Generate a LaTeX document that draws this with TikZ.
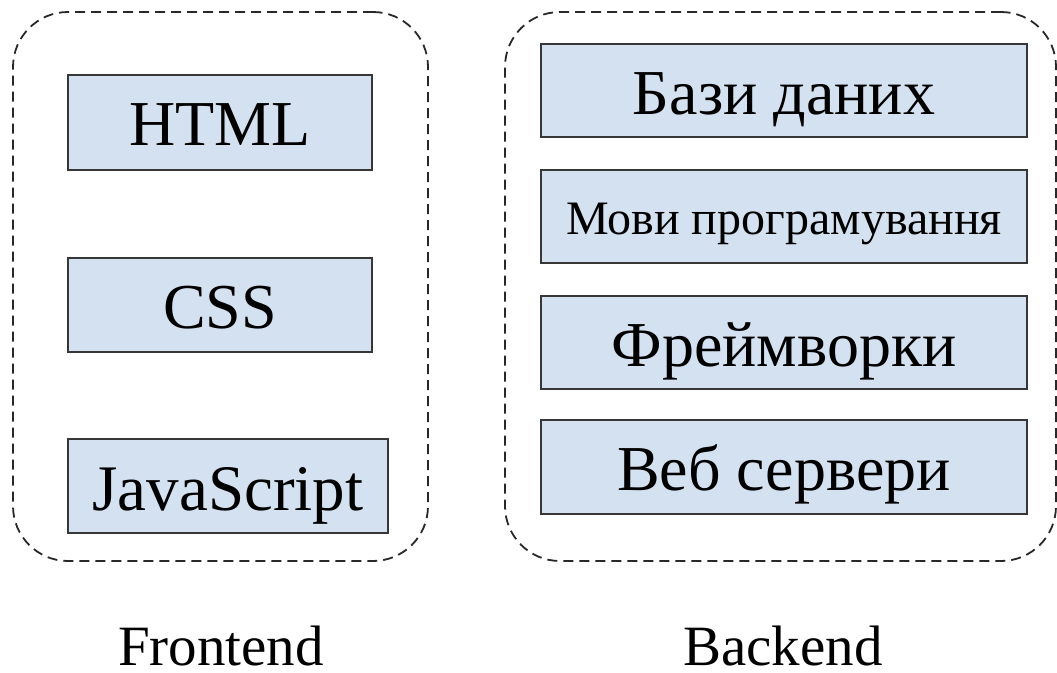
\documentclass[tikz,border=0pt]{standalone}
\usepackage{fontspec}
\setmainfont{Liberation Serif}
\usepackage{tikz}
\definecolor{boxfill}{RGB}{212,225,240}
\definecolor{boxline}{RGB}{55,55,55}
\definecolor{dashline}{RGB}{40,40,40}
\tikzset{
    techbox/.style={draw = boxline, fill = boxfill, line width = 2pt, inner sep = 0pt,
        font = \fontsize{#1}{#1}\selectfont, text height = {0.85*#1}, text depth = {0.11*#1}},
    techbox/.default = 64,
    groupbox/.style={draw = dashline, dash pattern = on 10pt off 6pt, line width = 1.8pt,
        rounded corners = 55pt, inner sep = 0pt},
    grouplabel/.style={anchor = base, text depth = 0pt, font = \fontsize{57}{62}\selectfont},
}

\begin{document}
\begin{tikzpicture}[x = 1pt, y = 1pt]
\useasboundingbox (0,0) rectangle (1057,-672);
\node[groupbox, minimum width = 415, minimum height = 549] (front) at (220.5,-286.5) {};
\node[groupbox, minimum width = 551, minimum height = 549] (back) at (780.5,-286.5) {};
\node[techbox, minimum width = 304, minimum height = 95] (html) at (220,-122) {HTML};
\node[techbox, minimum width = 304, minimum height = 94] (css) at (220,-304.5) {CSS};
\node[techbox = 65, minimum width = 320, minimum height = 94] (js) at (228,-486) {JavaScript};
\node[techbox, minimum width = 486, minimum height = 93] (db) at (784,-90.5) {Бази даних};
\node[techbox = 48, minimum width = 486, minimum height = 93] (lang) at (784,-216.5) {Мови програмування};
\node[techbox, minimum width = 486, minimum height = 93] (fw) at (784,-342.5) {Фреймворки};
\node[techbox, minimum width = 486, minimum height = 94] (web) at (784,-467) {Веб сервери};
\node[grouplabel] (frontlabel) at (221,-665) {Frontend};
\node[grouplabel] (backlabel) at (783,-665) {Backend};
\end{tikzpicture}
\end{document}
